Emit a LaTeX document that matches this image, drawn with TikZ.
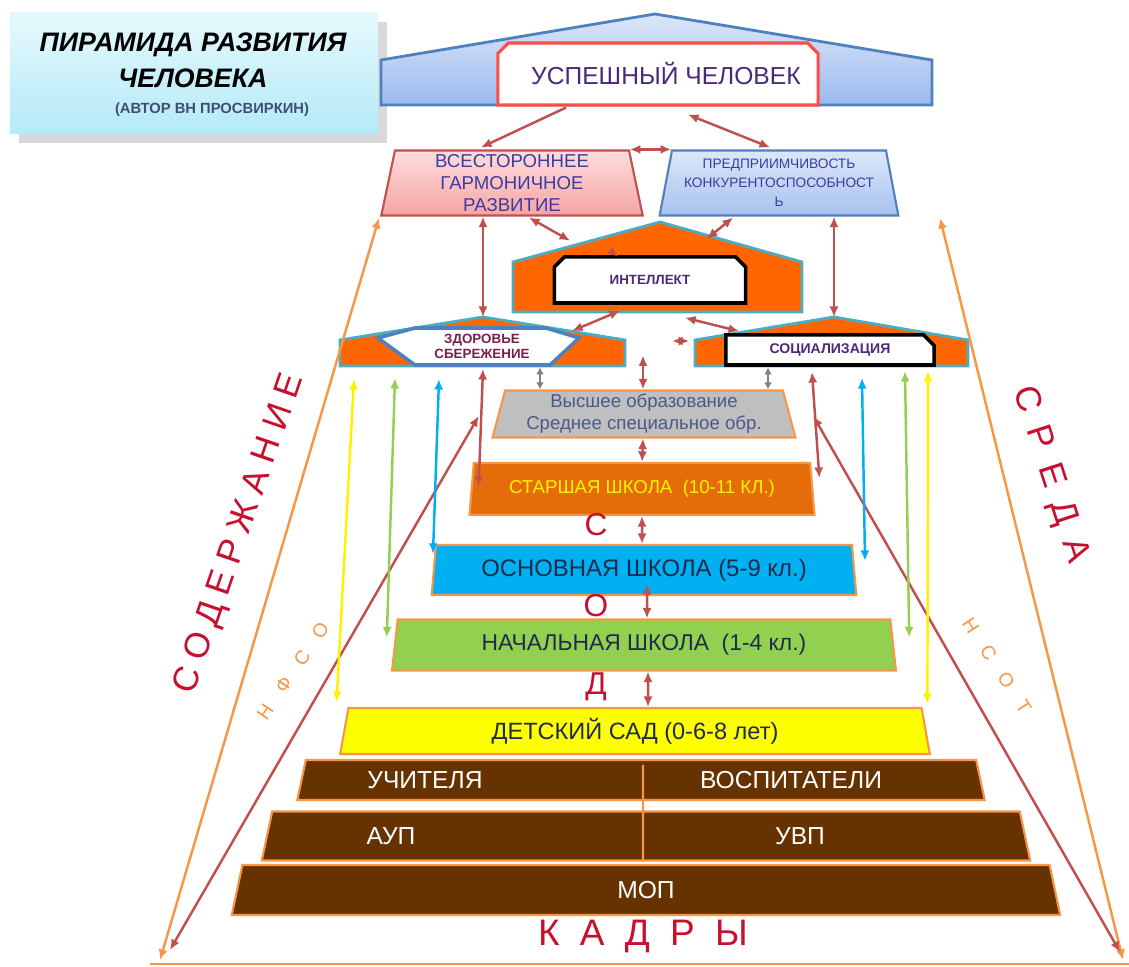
\documentclass[tikz,border=0pt]{standalone}
\usepackage{fontspec}
\setmainfont{Liberation Sans}
\usepackage{xcolor}
\usetikzlibrary{arrows, arrows.meta}
\usetikzlibrary{positioning}
\usetikzlibrary{calc}
\usetikzlibrary{shapes.geometric, shapes.misc}
\usetikzlibrary{shadows}

\definecolor{linkred}{HTML}{C0504D}
\definecolor{frameorange}{HTML}{F79646}
\definecolor{roofblue}{HTML}{4F81BD}
\definecolor{roofteal}{HTML}{4BACC6}
\definecolor{brightorange}{HTML}{FF6600}
\definecolor{labelred}{HTML}{C8102E}
\definecolor{boxpurple}{HTML}{4A2A78}
\definecolor{boxblue}{HTML}{3C3CA0}
\definecolor{healthred}{HTML}{7A1F4A}
\definecolor{greytext}{HTML}{4A5A8A}
\definecolor{navytext}{HTML}{1F2A4F}
\definecolor{greyfill}{HTML}{BFBFBF}
\definecolor{seniorfill}{HTML}{E46C0A}
\definecolor{basicfill}{HTML}{00B0F0}
\definecolor{primaryfill}{HTML}{92D050}
\definecolor{kinderfill}{HTML}{FFFF00}
\definecolor{staffbrown}{HTML}{663300}
\definecolor{titletop}{HTML}{E6F9FD}
\definecolor{titlebot}{HTML}{B4EAF7}
\definecolor{subgrey}{HTML}{3F4F6F}
\definecolor{pinktop}{HTML}{FFDCDC}
\definecolor{pinkbot}{HTML}{F5A5A5}
\definecolor{bluetop}{HTML}{DDE7F9}
\definecolor{bluebot}{HTML}{A6C2EF}
\definecolor{housetop}{HTML}{DCE6F8}
\definecolor{housebot}{HTML}{9CBAEE}
\newcommand{\spacedby}[2]{{\spaceskip=#1\relax #2}}

\begin{document}
\begin{tikzpicture}[x=0.01cm, y=-0.01cm,
	>={Latex[length=3pt,width=2.6pt]},
	link/.style={<->, linkred, line width=0.7pt},
	greylink/.style={{Latex[length=2pt,width=2.2pt]}-{Latex[length=2pt,width=2.2pt]}, gray, line width=0.7pt},
	framelink/.style={<->, frameorange, line width=0.7pt},
	roof/.style={draw=roofteal, line width=0.8pt, fill=brightorange},
	whitebox/.style={chamfered rectangle, chamfered rectangle xsep=1.5pt, chamfered rectangle ysep=1.5pt, fill=white, inner sep=0pt},
	level/.style={trapezium, trapezium stretches=true, draw=frameorange, line width=0.6pt, inner sep=0pt, align=center},
	stafflevel/.style={level, fill=staffbrown, trapezium angle=78, trapezium stretches=false, trapezium stretches body=true},
	stafftext/.style={text=white, font=\fontsize{7}{8}\selectfont}]
			\useasboundingbox (0,0) rectangle (1129,967);
			% title
			\node[top color=titletop, bottom color=titlebot, drop shadow={opacity=0.3}, minimum width=3.68cm, minimum height=1.21cm] (title) at (194,73) {};
			\node[font=\fontsize{7.6}{9}\selectfont\bfseries\itshape] (titlea) at (193,45) {ПИРАМИДА РАЗВИТИЯ};
			\node[font=\fontsize{7.6}{9}\selectfont\bfseries\itshape] (titleb) at (193,78) {ЧЕЛОВЕКА};
			\node[font=\fontsize{4.2}{5}\selectfont\bfseries, text=subgrey] (titlec) at (212,110) {(АВТОР ВН ПРОСВИРКИН)};
			
			% draw houses
			\draw[draw=roofblue, line width=0.8pt, top color=housetop, bottom color=housebot] (381,105) -- (381,60) -- (655,14) -- (932,60) -- (932,105) -- cycle;
			\node[whitebox, chamfered rectangle corners={north west, north east}, draw=red!70!white, line width=0.9pt, minimum width=3.2cm, minimum height=0.62cm, font=\fontsize{7}{8}\selectfont, text=boxpurple] (winner) at (658,74) {\hspace{4.5pt}УСПЕШНЫЙ ЧЕЛОВЕК};
			
			\node[level, draw=linkred, top color=pinktop, bottom color=pinkbot, trapezium angle=81, minimum width=2.62cm, minimum height=0.65cm, font=\fontsize{5.3}{6.2}\selectfont, text=boxblue] (harm) at (512,183) {ВСЕСТОРОННЕЕ\\ГАРМОНИЧНОЕ\\РАЗВИТИЕ};
			\node[level, draw=roofblue, top color=bluetop, bottom color=bluebot, trapezium angle=77, minimum width=2.40cm, minimum height=0.65cm, font=\fontsize{3.9}{5.4}\selectfont, text=boxblue] (enterp) at (779,183) {ПРЕДПРИИМЧИВОСТЬ\\КОНКУРЕНТОСПОСОБНОСТ\\Ь};
			
			\draw[roof] (513,312) -- (513,262) -- (660,222) -- (802,262) -- (802,312) -- cycle;
			\node[whitebox, chamfered rectangle corners={north west, north east}, draw=black, line width=1pt, minimum width=1.91cm, minimum height=0.46cm, font=\fontsize{3.8}{4}\selectfont\bfseries, text=boxpurple] (intel) at (650,280) {ИНТЕЛЛЕКТ};
			
			\coordinate (healthtop) at (483,317);
			\coordinate (healthbase) at (340,366);
			\draw[roof] (healthbase) -- (340,340) -- (healthtop) -- (625,340) -- (625,366) -- cycle;
			\draw[fill=white, draw=roofblue, line width=1pt] (378,338) -- (415,328) -- (546,328) -- (579,338) -- (550,365) -- (415,365) -- cycle;
			\node[font=\fontsize{3.8}{4.3}\selectfont\bfseries, text=healthred, align=center] (health) at (482,346) {ЗДОРОВЬЕ\\СБЕРЕЖЕНИЕ};
			
			\coordinate (socialtop) at (834,317);
			\coordinate (socialbase) at (968,366);
			\draw[roof] (695,366) -- (695,340) -- (socialtop) -- (968,340) -- (socialbase) -- cycle;
			\node[whitebox, chamfered rectangle corners=north east, draw=black, line width=1pt, minimum width=2.08cm, minimum height=0.30cm, font=\fontsize{4}{5}\selectfont\bfseries, text=boxpurple] (social) at (830,350) {СОЦИАЛИЗАЦИЯ};
			
			% draw levels
			\node[level, fill=greyfill, trapezium angle=75, minimum width=3.05cm, minimum height=0.47cm, font=\fontsize{5.3}{6.3}\selectfont, text=greytext] (hi) at (644,414) {Высшее образование\\Среднее специальное обр.};
			\node[level, fill=seniorfill, trapezium angle=79, minimum width=3.45cm, minimum height=0.52cm, font=\fontsize{5.3}{6}\selectfont, text=yellow] (senior) at (642,489) {СТАРШАЯ ШКОЛА~ (10-11 КЛ.)};
			\node[level, fill=basicfill, trapezium angle=81.5, minimum width=4.28cm, minimum height=0.50cm, font=\fontsize{6.8}{8}\selectfont, text=navytext] (basic) at (644,570) {ОСНОВНАЯ ШКОЛА (5-9 кл.)};
			\node[level, fill=primaryfill, trapezium angle=80, minimum width=5.08cm, minimum height=0.51cm, font=\fontsize{6.5}{8}\selectfont, text=navytext] (primary) at (644,645) {НАЧАЛЬНАЯ ШКОЛА~ (1-4 кл.)};
			\node[level, fill=kinderfill, trapezium angle=81, minimum width=5.90cm, minimum height=0.46cm, font=\fontsize{6.7}{8}\selectfont, text=navytext] (kinder) at (635,731) {ДЕТСКИЙ САД (0-6-8 лет)};
			\node[stafflevel, minimum width=6.87cm, text height=0.2cm, text depth=0.2cm, stafftext] (teach) at (641,780) {\phantom{МОП}};
			\node[stafflevel, minimum width=7.68cm, text height=0.245cm, text depth=0.245cm, stafftext] (staff) at (646,836) {\phantom{МОП}};
			\node[stafflevel, minimum width=8.28cm, text height=0.25cm, text depth=0.25cm, stafftext] (mop) at (646,890) {\raisebox{-2.4pt}{МОП}};
			\draw[frameorange, line width=0.6pt] ($(teach.north)+(2,6)$) -- ($(staff.south)+(-3,0)$);
			\node[stafftext] (teachers) at (425,780) {УЧИТЕЛЯ};
			\node[stafftext] (educators) at (791,780) {ВОСПИТАТЕЛИ};
			\node[stafftext] (aup) at (391,836) {АУП};
			\node[stafftext] (uvp) at (800,836) {УВП};
			
			% letters and side labels
			\node[font=\fontsize{9}{10}\selectfont, text=labelred] (sletter) at (596,525) {С};
			\node[font=\fontsize{9}{10}\selectfont, text=labelred] (oletter) at (596,606) {О};
			\node[font=\fontsize{9}{10}\selectfont, text=labelred] (dletter) at (596,687) {Д};
			\node[font=\fontsize{10.5}{12}\selectfont, text=labelred] (cadres) at (643,936) {\spacedby{0.55em}{К А Д Р Ы}};
			\node[rotate=71, font=\fontsize{10}{12}\selectfont, text=labelred] (content) at (240,534) {\spacedby{0.26em}{С О Д Е Р Ж А Н И Е}};
			\node[rotate=-72, font=\fontsize{10}{12}\selectfont, text=labelred] (env) at (1050,475) {\spacedby{0.45em}{С Р Е Д А}};
			\node[rotate=56, font=\fontsize{5.5}{6}\selectfont, text=frameorange] (nfso) at (293,671) {\spacedby{0.95em}{Н Ф С О}};
			\node[rotate=-57, font=\fontsize{5.5}{6}\selectfont, text=frameorange] (nsot) at (997,666) {\spacedby{0.95em}{Н С О Т}};
			
			% frame
			\coordinate (contl) at (160,960);
			\coordinate (contt) at (379,218);
			\coordinate (envt) at (940,218);
			\coordinate (envb) at (1123,960);
			\draw[framelink] (contl) -- (contt);
			\draw[framelink] (envt) -- (envb);
			\draw[frameorange, line width=0.7pt] ($(contl)+(-10,4)$) -- (1129,964);
			
			% add arrows
			\draw[link, <-] ($(harm.north)+(-31,-2)$) -- ($(winner.south)+(-92,1)$);
			\draw[link] ($(winner.south)+(30,8)$) -- ($(enterp.north)+(-9,-2)$);
			\draw[link] (harm.top right corner) -- (enterp.top left corner);
			\draw[link] (healthtop |- harm.south) -- (healthtop);
			\draw[link] (socialtop |- enterp.south) -- (socialtop);
			\draw[link] ($(harm.south)+(17,1)$) -- ($(intel.north west)+(12,-20)$);
			\draw[link] ($(enterp.south)+(-46,1)$) -- ($(intel.north east)+(-35,-22)$);
			\draw[link, ->] ($(intel.north west)+(52,-10)$) -- ($(intel.north west)+(60,-4)$);
			\draw[link] ($(intel.south)+(-30,6)$) -- ($(healthtop)+(89,14)$);
			\draw[link] ($(intel.south)+(35,13)$) -- ($(social.north west)+(15,-2)$);
			\draw[link] ($(social.west)+(-52,-9)$) -- ($(social.west)+(-35,-9)$);
			\draw[link] ($(hi.north)+(-1,-34)$) -- ($(hi.north)+(-1,0)$);
			\draw[greylink] ($(hi.north)+(-104,-22)$) -- ($(hi.north)+(-104,0)$);
			\draw[greylink] ($(hi.north)+(124,-22)$) -- ($(hi.north)+(124,0)$);
			\draw[link] ($(hi.south)+(-1,0)$) -- (senior.north);
			\draw[link] (senior.south) -- ($(basic.north)+(-2,0)$);
			\draw[link] ($(basic.south)+(3,-12)$) -- ($(primary.north)+(3,0)$);
			\draw[link] ($(primary.south)+(4,0)$) -- ($(kinder.north)+(13,0)$);
			\draw[link] ($(healthtop)+(0,52)$) -- ($(senior.west)+(8,-2)$);
			\draw[link] ($(socialtop)+(-22,55)$) -- ($(senior.east)+(6,-11)$);
			\draw[link] ($(hi.west)+(-19,2)$) -- ($(contl)+(10,-10)$);
			\draw[link] ($(hi.east)+(23,2)$) -- ($(envb)+(-3,-8)$);
			
			% coloured arrows
			\draw[<->, yellow, line width=0.7pt] ($(healthbase)+(14,13)$) -- ($(kinder.top left corner)+(-11,-5)$);
			\draw[<->, primaryfill, line width=0.7pt] ($(healthbase)+(55,12)$) -- ($(primary.top left corner)+(-10,19)$);
			\draw[<->, basicfill, line width=0.7pt] ($(healthbase)+(99,13)$) -- ($(basic.top left corner)+(-2,10)$);
			\draw[<->, basicfill, line width=0.7pt] ($(socialbase)+(-106,12)$) -- ($(basic.top right corner)+(12,17)$);
			\draw[<->, primaryfill, line width=0.7pt] ($(socialbase)+(-63,5)$) -- ($(primary.top right corner)+(18,19)$);
			\draw[<->, yellow, line width=0.7pt] ($(socialbase)+(-40,5)$) -- ($(kinder.top right corner)+(5,-3)$);
		\end{tikzpicture}
\end{document}
